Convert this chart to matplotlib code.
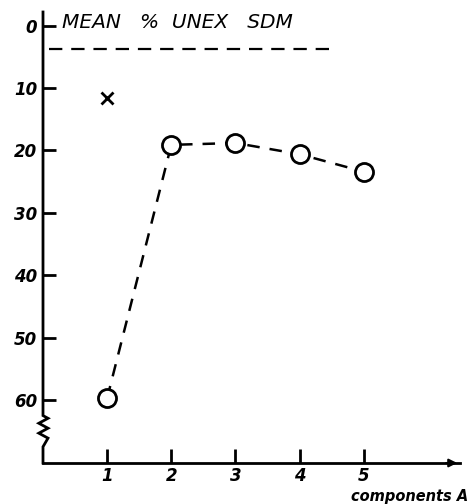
import matplotlib
matplotlib.use("Agg")
import matplotlib.pyplot as plt
import numpy as np

components = [1, 2, 3, 4, 5]
mean_unex = [59.7, 19.1, 18.8, 20.6, 23.4]
x_marker_comp = [1]
x_marker_val = [11.6]
sdm_level = [3.7]
y_ticks = [0, 10, 20, 30, 40, 50, 60]
x_ticks = [1, 2, 3, 4, 5]

fig = plt.figure(figsize=(4.68, 5.04), dpi=100)
ax = fig.add_axes([43/468, 1-463/504, (460-43)/468, (463-12)/504])
ax.set_xlim(0, 6.5)
ax.set_ylim(70.1, -2.2)

for s in ["top", "right", "left"]:
    ax.spines[s].set_visible(False)
ax.spines["bottom"].set_linewidth(2)

# left axis with zigzag break (axes coordinates)
def yfrac(v):
    return (70.1 - v) / (70.1 + 2.2)
ztop = yfrac(62.5)
zbot = yfrac(67.5)
zx = [0, 0, 0.012, -0.010, 0.012, -0.010, 0.012, 0, 0]
zy = [1, ztop, ztop - 0.006, ztop - 0.017, ztop - 0.028, ztop - 0.039, ztop - 0.050, zbot, 0]
ax.plot(zx, zy, color="black", lw=2, transform=ax.transAxes, clip_on=False, solid_joinstyle="miter")

# arrow at x-axis end
ax.annotate("", xy=(1.0, 0), xytext=(0.96, 0), xycoords="axes fraction",
            arrowprops=dict(arrowstyle="-|>", color="black", lw=1.5, mutation_scale=12))

ax.plot(components, mean_unex, linestyle=(0, (5, 4)), color="black", lw=1.8,
        marker="o", markersize=13, markerfacecolor="white", markeredgecolor="black",
        markeredgewidth=2)
ax.plot(x_marker_comp, x_marker_val, linestyle="none", marker="x", color="black",
        markersize=8, markeredgewidth=2)
ax.plot([0.1, 4.5], [sdm_level[0], sdm_level[0]], linestyle=(0, (6, 4)), color="black", lw=1.6)

ax.set_yticks(y_ticks)
ax.set_yticklabels([str(v) for v in y_ticks], fontstyle="italic", fontweight="bold", fontsize=12)
ax.set_xticks(x_ticks)
ax.set_xticklabels([str(v) for v in x_ticks], fontstyle="italic", fontweight="bold", fontsize=12)
ax.tick_params(axis="y", direction="in", length=9, width=2, pad=4)
ax.tick_params(axis="x", direction="in", length=10, width=2, pad=3)

ax.text(0.3, -0.5, "MEAN   %  UNEX   SDM", fontstyle="italic", fontsize=14.5,
        va="center", ha="left")
fig.text(1.0, 0.0, "components A", fontstyle="italic", fontweight="bold",
         fontsize=10.5, ha="right", va="bottom")

fig.savefig("out.png", dpi=100)
